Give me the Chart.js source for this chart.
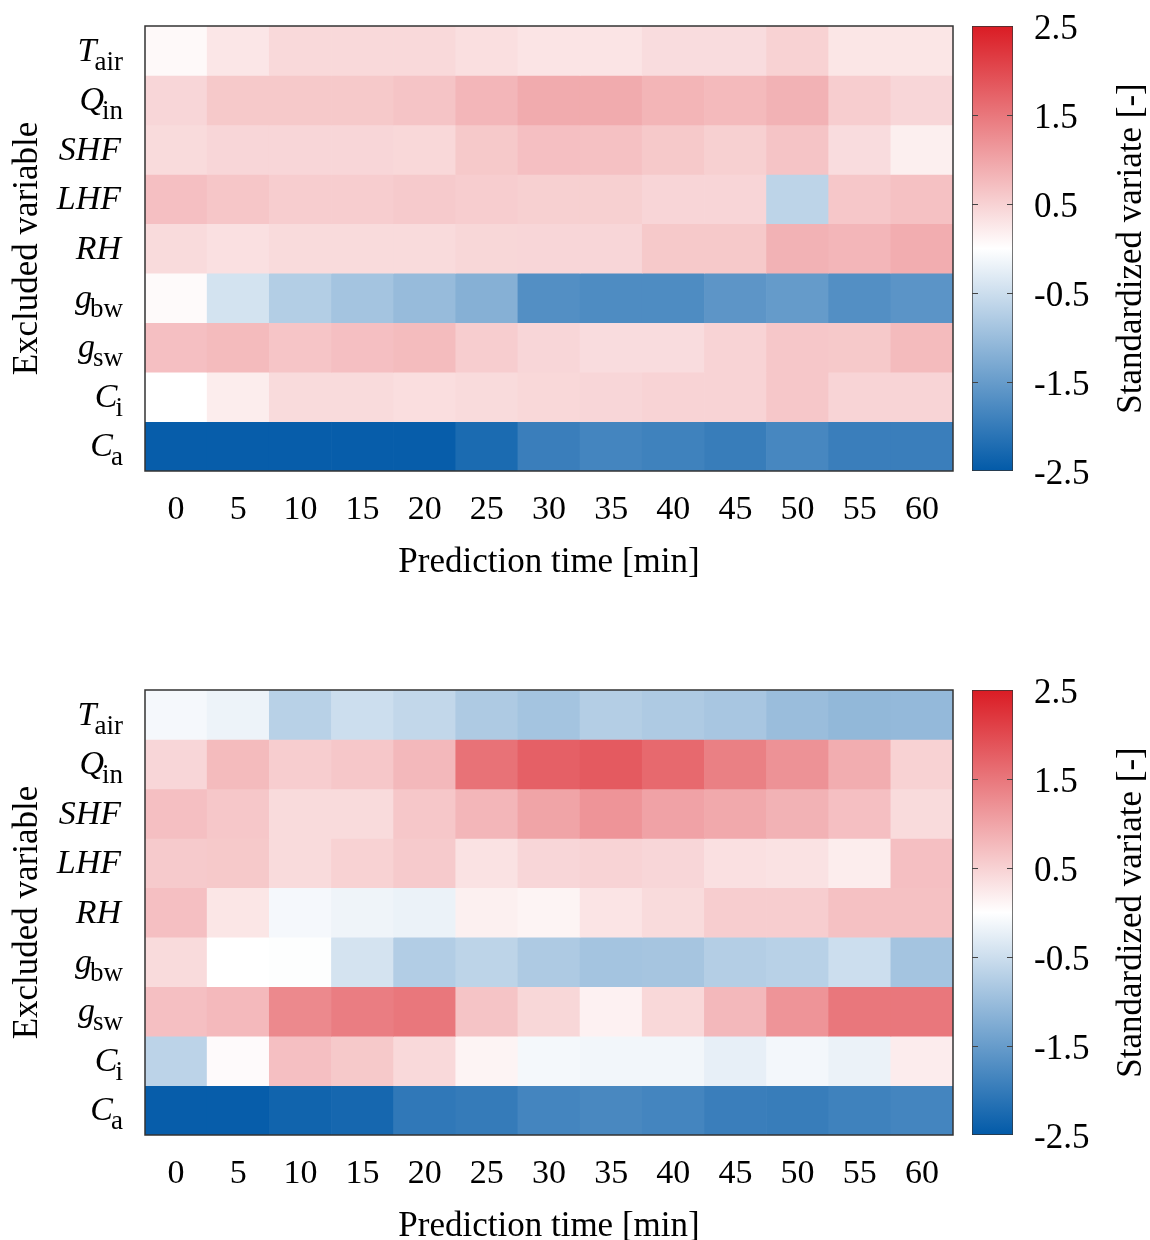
<!DOCTYPE html>
<html>
<head>
<meta charset="utf-8">
<script src="https://cdn.jsdelivr.net/npm/chart.js@4.4.1/dist/chart.umd.min.js"></script>
<style>
  html, body { margin: 0; padding: 0; background: #fff; overflow: hidden; }
  .panel { position: relative; width: 1150px; height: 664px; }
  .panel canvas { position: absolute; top: 0; }
</style>
</head>
<body>
<div class="panel">
  <canvas id="heatTop" width="960" height="664" style="left:0"></canvas>
  <canvas id="barTop" width="190" height="664" style="left:960px"></canvas>
</div>
<div class="panel">
  <canvas id="heatBottom" width="960" height="664" style="left:0"></canvas>
  <canvas id="barBottom" width="190" height="664" style="left:960px"></canvas>
</div>
<script>
// x categories: prediction time [min]
const times = [0, 5, 10, 15, 20, 25, 30, 35, 40, 45, 50, 55, 60];

// row labels: [main (italic), subscript]
const rowNames = [
  ['T', 'air'], ['Q', 'in'], ['SHF', ''], ['LHF', ''], ['RH', ''],
  ['g', 'bw'], ['g', 'sw'], ['C', 'i'], ['C', 'a']
];

// upper panel, one row per excluded variable
const upperGrid = [
  [0.07, 0.27, 0.42, 0.42, 0.42, 0.35, 0.30, 0.30, 0.38, 0.38, 0.50, 0.28, 0.28],
  [0.45, 0.60, 0.60, 0.60, 0.65, 0.80, 0.92, 0.92, 0.82, 0.76, 0.85, 0.55, 0.45],
  [0.40, 0.45, 0.45, 0.45, 0.43, 0.60, 0.70, 0.68, 0.60, 0.52, 0.65, 0.38, 0.18],
  [0.70, 0.63, 0.55, 0.55, 0.58, 0.55, 0.52, 0.52, 0.46, 0.46, -0.65, 0.62, 0.68],
  [0.40, 0.34, 0.40, 0.40, 0.40, 0.44, 0.45, 0.45, 0.60, 0.60, 0.85, 0.80, 0.90],
  [0.06, -0.43, -0.75, -0.90, -1.03, -1.20, -1.70, -1.75, -1.75, -1.60, -1.52, -1.70, -1.62],
  [0.70, 0.75, 0.64, 0.70, 0.74, 0.55, 0.45, 0.38, 0.38, 0.48, 0.62, 0.60, 0.75],
  [0.00, 0.20, 0.40, 0.40, 0.36, 0.40, 0.43, 0.45, 0.48, 0.48, 0.62, 0.47, 0.47],
  [-2.45, -2.45, -2.45, -2.45, -2.45, -2.25, -1.95, -1.85, -1.90, -1.97, -1.82, -1.95, -1.95]
];

// lower panel
const lowerGrid = [
  [-0.10, -0.18, -0.70, -0.50, -0.60, -0.80, -0.90, -0.74, -0.80, -0.86, -1.00, -1.08, -1.06],
  [0.45, 0.75, 0.55, 0.62, 0.78, 1.55, 1.75, 1.82, 1.65, 1.40, 1.20, 0.90, 0.50],
  [0.70, 0.62, 0.40, 0.40, 0.62, 0.80, 1.00, 1.18, 1.02, 0.95, 0.85, 0.70, 0.40],
  [0.58, 0.60, 0.40, 0.50, 0.58, 0.32, 0.45, 0.48, 0.45, 0.34, 0.32, 0.20, 0.70],
  [0.70, 0.28, -0.10, -0.16, -0.20, 0.17, 0.12, 0.30, 0.40, 0.55, 0.55, 0.68, 0.68],
  [0.40, 0.00, -0.02, -0.42, -0.76, -0.65, -0.80, -0.90, -0.88, -0.74, -0.70, -0.50, -0.90],
  [0.70, 0.77, 1.30, 1.43, 1.50, 0.65, 0.44, 0.15, 0.43, 0.78, 1.18, 1.50, 1.50],
  [-0.66, 0.05, 0.70, 0.60, 0.42, 0.12, -0.11, -0.13, -0.13, -0.24, -0.12, -0.20, 0.21],
  [-2.45, -2.45, -2.35, -2.30, -2.05, -2.00, -1.85, -1.80, -1.85, -1.95, -1.97, -1.90, -1.85]
];

// colour bar
const cbMin = -2.5;
const cbMax = 2.5;
const cbTicks = [-2.5, -1.5, -0.5, 0.5, 1.5, 2.5];
const cmapStops = [[-2.5, [2, 90, 168]], [0, [255, 255, 255]], [2.5, [218, 28, 36]]];

const serif = "'Liberation Serif', 'DejaVu Serif', serif";

function colorFor(v) {
  v = Math.max(cbMin, Math.min(cbMax, v));
  for (let i = 0; i < cmapStops.length - 1; i++) {
    const [v0, c0] = cmapStops[i];
    const [v1, c1] = cmapStops[i + 1];
    if (v <= v1) {
      const t = (v - v0) / (v1 - v0);
      const c = c0.map((a, k) => Math.round(a + (c1[k] - a) * t));
      return `rgb(${c[0]},${c[1]},${c[2]})`;
    }
  }
}

// italic row names with subscripts, drawn at the row centres
const rowLabels = {
  id: 'rowLabels',
  afterDraw(chart) {
    const ctx = chart.ctx;
    const y = chart.scales.y;
    ctx.save();
    ctx.fillStyle = '#000';
    ctx.textAlign = 'right';
    ctx.textBaseline = 'alphabetic';
    rowNames.forEach(([main, sub], r) => {
      const cy = y.getPixelForValue(r + 0.5);
      let right = 123;
      if (sub) {
        ctx.font = '27px ' + serif;
        ctx.fillText(sub, right, cy + 19);
        right -= ctx.measureText(sub).width - 2;
      } else {
        right = 121;
      }
      ctx.font = 'italic 34px ' + serif;
      ctx.fillText(main, right, cy + 10);
    });
    ctx.restore();
  }
};

const frame = {
  id: 'frame',
  afterDraw(chart) {
    const a = chart.chartArea;
    const ctx = chart.ctx;
    ctx.save();
    ctx.strokeStyle = '#333';
    ctx.lineWidth = 1.5;
    ctx.strokeRect(a.left, a.top, a.right - a.left, a.bottom - a.top);
    ctx.restore();
  }
};

// inward ticks and rotated title for the colour bar
const cbDecor = {
  id: 'cbDecor',
  afterDraw(chart) {
    const ctx = chart.ctx;
    const a = chart.chartArea;
    const y = chart.scales.y;
    ctx.save();
    ctx.strokeStyle = '#444';
    ctx.lineWidth = 1;
    cbTicks.slice(1, -1).forEach(v => {
      const py = Math.round(y.getPixelForValue(v)) + 0.5;
      ctx.beginPath();
      ctx.moveTo(a.left, py); ctx.lineTo(a.left + 6, py);
      ctx.moveTo(a.right - 6, py); ctx.lineTo(a.right, py);
      ctx.stroke();
    });
    ctx.translate(172, (a.top + a.bottom) / 2);
    ctx.rotate(-Math.PI / 2);
    ctx.font = '35px ' + serif;
    ctx.fillStyle = '#000';
    ctx.textAlign = 'center';
    ctx.textBaseline = 'middle';
    ctx.fillText('Standardized variate [-]', 0, 0);
    ctx.restore();
  }
};

function heatConfig(grid) {
  return {
    type: 'bar',
    data: {
      labels: times,
      datasets: grid.map((row, r) => ({
        label: rowNames[r].join(''),
        data: row.map(() => [r, r + 1]),
        backgroundColor: row.map(colorFor),
        borderWidth: 0,
        grouped: false,
        categoryPercentage: 1,
        barPercentage: 1
      }))
    },
    options: {
      responsive: false,
      animation: false,
      layout: { padding: { top: 26, right: 7, bottom: 80, left: 0 } },
      plugins: { legend: { display: false }, tooltip: { enabled: false } },
      scales: {
        x: {
          grid: { display: false, drawTicks: false },
          border: { display: false },
          ticks: { color: '#000', font: { family: serif, size: 34 }, padding: 19, maxRotation: 0, autoSkip: false },
          title: { display: true, text: 'Prediction time [min]', color: '#000', font: { family: serif, size: 35 }, padding: 0 },
          afterFit: s => { s.height = 113; s.paddingLeft = 0; s.paddingRight = 0; }
        },
        y: {
          min: 0, max: 9, reverse: true,
          grid: { display: false, drawTicks: false },
          border: { display: false },
          ticks: { display: false },
          title: { display: true, text: 'Excluded variable', color: '#000', font: { family: serif, size: 35 }, padding: { top: 7, bottom: 0 } },
          afterFit: s => { s.width = 145; }
        }
      }
    },
    plugins: [rowLabels, frame]
  };
}

function barConfig() {
  return {
    type: 'bar',
    data: {
      labels: [''],
      datasets: [{
        data: [[cbMin, cbMax]],
        backgroundColor: c => {
          const ch = c.chart;
          if (!ch.chartArea) return '#fff';
          const y = ch.scales.y;
          const g = ch.ctx.createLinearGradient(0, y.getPixelForValue(cbMin), 0, y.getPixelForValue(cbMax));
          cmapStops.forEach(([v, rgb]) => g.addColorStop((v - cbMin) / (cbMax - cbMin), `rgb(${rgb.join(',')})`));
          return g;
        },
        borderColor: '#333',
        borderWidth: 1,
        borderSkipped: false,
        categoryPercentage: 1,
        barPercentage: 1
      }]
    },
    options: {
      responsive: false,
      animation: false,
      layout: { padding: { top: 26, right: 0, bottom: 193, left: 12 } },
      plugins: { legend: { display: false }, tooltip: { enabled: false } },
      scales: {
        x: { display: false },
        y: {
          position: 'right',
          min: cbMin, max: cbMax,
          afterBuildTicks: s => { s.ticks = cbTicks.map(v => ({ value: v })); },
          grid: { display: false, drawTicks: false },
          border: { display: false },
          ticks: { color: '#000', font: { family: serif, size: 35 }, padding: 21, labelOffset: 4, callback: v => v.toFixed(1) },
          // keep the bar the same height as the heatmap
          afterFit: s => { s.width = 137; s.paddingTop = 0; s.paddingBottom = 0; }
        }
      }
    },
    plugins: [cbDecor]
  };
}

new Chart(document.getElementById('heatTop'), heatConfig(upperGrid));
new Chart(document.getElementById('barTop'), barConfig());
new Chart(document.getElementById('heatBottom'), heatConfig(lowerGrid));
new Chart(document.getElementById('barBottom'), barConfig());
</script>
</body>
</html>
